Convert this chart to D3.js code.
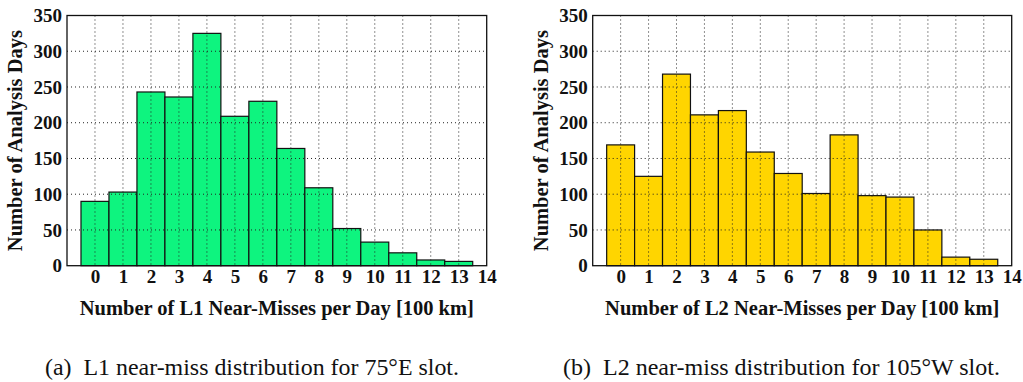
<!DOCTYPE html>
<html>
<head>
<meta charset="utf-8">
<script src="https://cdn.jsdelivr.net/npm/d3@7"></script>
<style>
  body { margin: 0; background: #fff; }
  svg { display: block; }
  .tick text { font-family: "Liberation Serif", serif; font-weight: bold; font-size: 19px; fill: #111; }
  .axislabel { font-family: "Liberation Serif", serif; font-weight: bold; font-size: 20.5px; fill: #111; }
  .caption { font-family: "Liberation Serif", serif; font-size: 23px; fill: #111; }
</style>
</head>
<body>
<script>
// bins: near-misses per day
var nearMisses = [0, 1, 2, 3, 4, 5, 6, 7, 8, 9, 10, 11, 12, 13];
var l1Days = [90, 103, 243, 236, 325, 209, 230, 164, 109, 52, 33, 18, 8, 6];
var l2Days = [169, 125, 268, 211, 217, 159, 129, 101, 183, 98, 96, 50, 12, 9];
var xTicks = [0, 1, 2, 3, 4, 5, 6, 7, 8, 9, 10, 11, 12, 13, 14];
var yTicks = [0, 50, 100, 150, 200, 250, 300, 350];

var width = 1023, height = 382;

var svg = d3.select("body").append("svg")
  .attr("width", width)
  .attr("height", height);

function panel(left, right, values, color, xTitle, capLetter, capText, capX, capW) {
  var top = 15.5, bottom = 265.7;

  var x = d3.scaleLinear().domain([-1, 14]).range([left, right]);
  var y = d3.scaleLinear().domain([0, 350]).range([bottom, top]);

  var g = svg.append("g");

  // bars
  g.selectAll(".bar")
    .data(values)
    .enter().append("rect")
    .attr("x", function(d, i) { return x(nearMisses[i] - 0.5); })
    .attr("y", function(d) { return y(d); })
    .attr("width", function(d, i) { return x(nearMisses[i] + 0.5) - x(nearMisses[i] - 0.5); })
    .attr("height", function(d) { return y(0) - y(d); })
    .style("fill", color)
    .style("stroke", "#111")
    .style("stroke-width", 1.2);

  // dotted grid, drawn over the bars
  g.selectAll(".vgrid")
    .data(xTicks.slice(0, 14))
    .enter().append("line")
    .attr("x1", function(d) { return x(d); })
    .attr("x2", function(d) { return x(d); })
    .attr("y1", top)
    .attr("y2", bottom)
    .style("stroke", "#222")
    .style("stroke-width", 1)
    .style("stroke-dasharray", "1,3");

  g.selectAll(".hgrid")
    .data(yTicks.slice(1, 7))
    .enter().append("line")
    .attr("x1", left)
    .attr("x2", right)
    .attr("y1", function(d) { return y(d); })
    .attr("y2", function(d) { return y(d); })
    .style("stroke", "#222")
    .style("stroke-width", 1)
    .style("stroke-dasharray", "1,3");

  // frame
  g.append("rect")
    .attr("x", left).attr("y", top)
    .attr("width", right - left).attr("height", bottom - top)
    .style("fill", "none")
    .style("stroke", "#111")
    .style("stroke-width", 1.3);

  var xAxis = g.append("g")
    .attr("transform", "translate(0," + bottom + ")")
    .call(d3.axisBottom(x).tickValues(xTicks).tickSize(0).tickPadding(4));
  xAxis.select(".domain").remove();

  var yAxis = g.append("g")
    .attr("transform", "translate(" + left + ",0)")
    .call(d3.axisLeft(y).tickValues(yTicks).tickSize(0).tickPadding(5));
  yAxis.select(".domain").remove();

  g.append("text")
    .attr("class", "axislabel")
    .attr("x", (left + right) / 2)
    .attr("y", 315)
    .attr("text-anchor", "middle")
    .text(xTitle);

  g.append("text")
    .attr("class", "axislabel")
    .attr("transform", "translate(" + (left - 45) + "," + ((top + bottom) / 2) + ") rotate(-90)")
    .attr("text-anchor", "middle")
    .text("Number of Analysis Days");

  // subfigure caption, stretched to the width it has in the reference
  var cap = g.append("text")
    .attr("class", "caption")
    .attr("x", capX)
    .attr("y", 375)
    .attr("textLength", capW)
    .attr("lengthAdjust", "spacingAndGlyphs");
  cap.append("tspan").text(capLetter + "\u00a0\u00a0");
  cap.append("tspan").text(capText);
}

panel(67, 486.7, l1Days, "#0ef47f", "Number of L1 Near-Misses per Day [100 km]",
  "(a)", "L1 near-miss distribution for 75°E slot.", 45, 414);
panel(592.7, 1011.7, l2Days, "#ffd500", "Number of L2 Near-Misses per Day [100 km]",
  "(b)", "L2 near-miss distribution for 105°W slot.", 563, 437);
</script>
</body>
</html>
